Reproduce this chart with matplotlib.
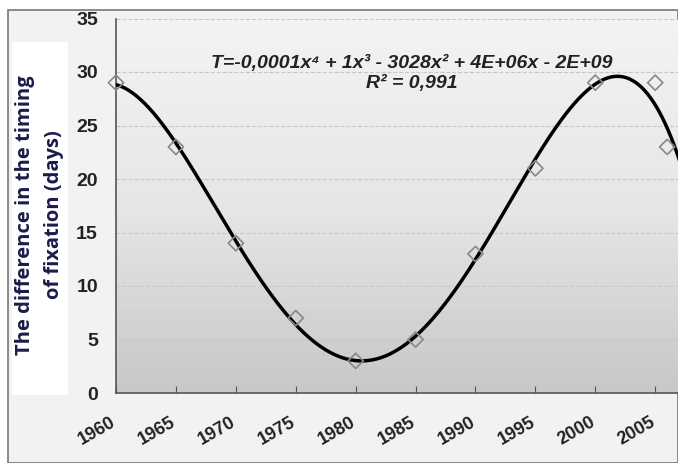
import numpy as np
import matplotlib.pyplot as plt
from matplotlib.patches import Rectangle
from matplotlib.transforms import ScaledTranslation

# data
years = [1960, 1965, 1970, 1975, 1980, 1985, 1990, 1995, 2000, 2005, 2006]
diff_days = [29, 23, 14, 7, 3, 5, 13, 21, 29, 29, 23]
x_ticks = [1960, 1965, 1970, 1975, 1980, 1985, 1990, 1995, 2000, 2005]
y_ticks = [0, 5, 10, 15, 20, 25, 30, 35]

equation = "T=-0,0001x\u2074 + 1x\u00b3 - 3028x\u00b2 + 4E+06x - 2E+09"
r2_text = "R\u00b2 = 0,991"
ylabel = "The difference in the timing\nof fixation (days)"

fig = plt.figure(figsize=(6.78, 4.63), dpi=100)
fig.patch.set_facecolor('white')
W, H = 678, 463

# outer chart frame
fig.patches.append(Rectangle((8 / W, 0), 1 - 8 / W, (H - 10) / H, transform=fig.transFigure,
                             facecolor='#f2f2f2', edgecolor='#777777', linewidth=1.2, zorder=0))
# white box pasted behind the y label
fig.patches.append(Rectangle((12 / W, (H - 395) / H), 56 / W, 353 / H, transform=fig.transFigure,
                             facecolor='white', edgecolor='none', zorder=1))

ax = fig.add_axes([116 / W, (H - 393) / H, 1 - 116 / W, (393 - 18.5) / H])
ax.set_zorder(3)
ax.set_facecolor('none')

# gradient background of plot area
grad = np.concatenate([np.linspace(0.78, 0.90, 50), np.linspace(0.90, 0.95, 50)])
ax.imshow(grad[:, None], cmap='gray', vmin=0, vmax=1, aspect='auto', origin='lower',
          extent=[0, 1, 0, 1], transform=ax.transAxes, zorder=0)

# 4th order polynomial trend line (as in Excel)
c = np.polyfit(np.array(years) - 1985, diff_days, 4)
xs = np.linspace(1960, 2008, 400)
ax.plot(xs, np.polyval(c, xs - 1985), color='black', linewidth=2.5, zorder=3)

ax.scatter(years, diff_days, marker='D', s=60, facecolors='none', edgecolors='#888888',
           linewidths=1.2, zorder=4, clip_on=False)

tick_font = 'Liberation Sans'
ax.set_xlim(1960, 2006.9)
ax.set_ylim(0, 35)
ax.set_xticks(x_ticks)
ax.set_yticks(y_ticks)
ax.set_xticklabels([str(t) for t in x_ticks], rotation=30, fontweight='bold', fontsize=13,
                   color='#222222', family=tick_font)
ax.set_yticklabels([str(t) for t in y_ticks], fontweight='bold', fontsize=14, color='#222222',
                   family=tick_font)
ax.tick_params(axis='x', direction='in', length=5, color='#555555', pad=15)
ax.tick_params(axis='y', length=0, pad=13)
shift = ScaledTranslation(3 / 100, 0, fig.dpi_scale_trans)
for lbl in ax.get_xticklabels():
    lbl.set_horizontalalignment('right')
    lbl.set_transform(lbl.get_transform() + shift)

ax.grid(axis='y', linestyle='--', color='#c8c8c8', linewidth=0.8, zorder=1)
ax.set_axisbelow(True)
for s in ['top', 'right']:
    ax.spines[s].set_visible(False)
ax.spines['left'].set_color('#555555')
ax.spines['bottom'].set_color('#555555')
ax.spines['left'].set_linewidth(1.2)
ax.spines['bottom'].set_linewidth(1.2)

eq_font = ['Liberation Sans', 'DejaVu Sans']
ax.text(1984.7, 30.75, equation, fontsize=14, fontstyle='italic', fontweight='bold',
        color='#222222', ha='center', va='center', family=eq_font, zorder=5)
ax.text(1984.7, 28.95, r2_text, fontsize=14, fontstyle='italic', fontweight='bold',
        color='#222222', ha='center', va='center', family=eq_font, zorder=5)

fig.text(40 / W, (H - 215) / H, ylabel, rotation=90, ha='center', va='center',
         fontsize=14.5, fontweight='bold', color='#1c1c4a', family='Open Sans',
         linespacing=1.6, zorder=2)

fig.savefig('out.png', dpi=100, facecolor=fig.get_facecolor())
